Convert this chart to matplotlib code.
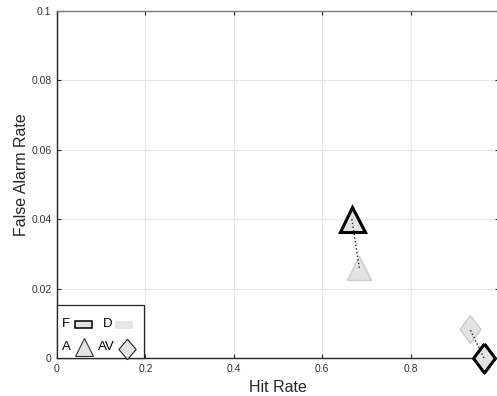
import matplotlib
matplotlib.use("Agg")
import matplotlib.pyplot as plt
from matplotlib.patches import Rectangle

plt.rcParams['font.family'] = ['Liberation Sans', 'DejaVu Sans']

# Data: (hit rate, false alarm rate)
conditions = ["A", "AV"]
hit_F = [0.667, 0.966]
fa_F = [0.040, 0.000]
hit_D = [0.684, 0.934]
fa_D = [0.026, 0.0084]

xticks = [0, 0.2, 0.4, 0.6, 0.8, 1]
yticks = [0, 0.02, 0.04, 0.06, 0.08, 0.1]
legend_labels = ["F", "D", "A", "AV"]

W, H = 497, 396
AX_L, AX_R, AX_T, AX_B = 57, 499, 11, 358
fig = plt.figure(figsize=(W / 100, H / 100), dpi=100)
ax = fig.add_axes([AX_L / W, 1 - AX_B / H, (AX_R - AX_L) / W, (AX_B - AX_T) / H])

grey_fill = '#e3e3e3'
grey_edge = '#cccccc'
dark = '#262626'
diamond = [(0, 1), (0.75, 0), (0, -1), (-0.75, 0), (0, 1)]
diamond_leg = [(0, 1), (0.85, 0), (0, -1), (-0.85, 0), (0, 1)]
markers = ['^', diamond]
sizes_F = [18, 21]
sizes_D = [17, 20]

for i in range(len(conditions)):
    ax.plot([hit_F[i], hit_D[i]], [fa_F[i], fa_D[i]], linestyle=':', color='#222222',
            lw=1.0, zorder=4, clip_on=False)
    ax.plot(hit_D[i], fa_D[i], marker=markers[i], markersize=sizes_D[i],
            markerfacecolor=grey_fill, markeredgecolor=grey_edge, markeredgewidth=1.0,
            linestyle='none', zorder=3, clip_on=False)
    ax.plot(hit_F[i], fa_F[i], marker=markers[i], markersize=sizes_F[i],
            markerfacecolor=grey_fill, markeredgecolor='black', markeredgewidth=2.2,
            linestyle='none', zorder=3, clip_on=False)

ax.set_xlim(0, 1)
ax.set_ylim(0, 0.1)
ax.set_xticks(xticks)
ax.set_xticklabels(['0', '0.2', '0.4', '0.6', '0.8', '1'])
ax.set_yticks(yticks)
ax.set_yticklabels(['0', '0.02', '0.04', '0.06', '0.08', '0.1'])
ax.grid(True, color='#e6e6e6', lw=0.8)
ax.set_axisbelow(True)
ax.tick_params(direction='in', length=3, width=0.8, labelsize=7.5, colors=dark,
               labelcolor='#333333', top=True, right=True, pad=4)
for side, s in ax.spines.items():
    s.set_linewidth(1.0)
    s.set_color(dark if side in ('left', 'bottom') else '#7a7a7a')
ax.set_xlabel('Hit Rate', fontsize=11.5, color=dark, labelpad=5)
ax.set_ylabel('False Alarm Rate', fontsize=11.5, color=dark, labelpad=1.5)
ax.yaxis.label.set_y(0.529)


# manual legend, pixel positions converted to axes fraction
def fx(px):
    return (px - AX_L) / (AX_R - AX_L)


def fy(py):
    return (AX_B - py) / (AX_B - AX_T)


ax.add_patch(Rectangle((fx(57), fy(358)), fx(144) - fx(57), fy(305) - fy(358),
                       transform=ax.transAxes, facecolor='white', edgecolor=dark,
                       lw=0.9, zorder=6, clip_on=False))
tkw = dict(transform=ax.transAxes, fontsize=9.5, color='black', va='center', ha='left', zorder=7)
ax.text(fx(62), fy(324), legend_labels[0], **tkw)
ax.text(fx(103), fy(324), legend_labels[1], **tkw)
ax.text(fx(62), fy(347), legend_labels[2], **tkw)
ax.text(fx(98), fy(347), legend_labels[3], **tkw)
ax.add_patch(Rectangle((fx(75), fy(328)), fx(92) - fx(75), fy(321) - fy(328),
                       transform=ax.transAxes, facecolor=grey_fill, edgecolor='black',
                       lw=1.1, zorder=7, clip_on=False))
ax.add_patch(Rectangle((fx(115), fy(328.5)), fx(133) - fx(115), fy(320.5) - fy(328.5),
                       transform=ax.transAxes, facecolor='#e6e6e6', edgecolor='none',
                       zorder=7, clip_on=False))
ax.plot(fx(83.5), fy(346.5), marker='^', markersize=12.5, markerfacecolor=grey_fill,
        markeredgecolor='#333333', markeredgewidth=0.8, transform=ax.transAxes,
        zorder=8, clip_on=False)
ax.plot(fx(126.5), fy(349), marker=diamond_leg, markersize=14.6, markerfacecolor=grey_fill,
        markeredgecolor='#222222', markeredgewidth=0.8, transform=ax.transAxes,
        zorder=8, clip_on=False)

fig.savefig('out.png', dpi=100)
